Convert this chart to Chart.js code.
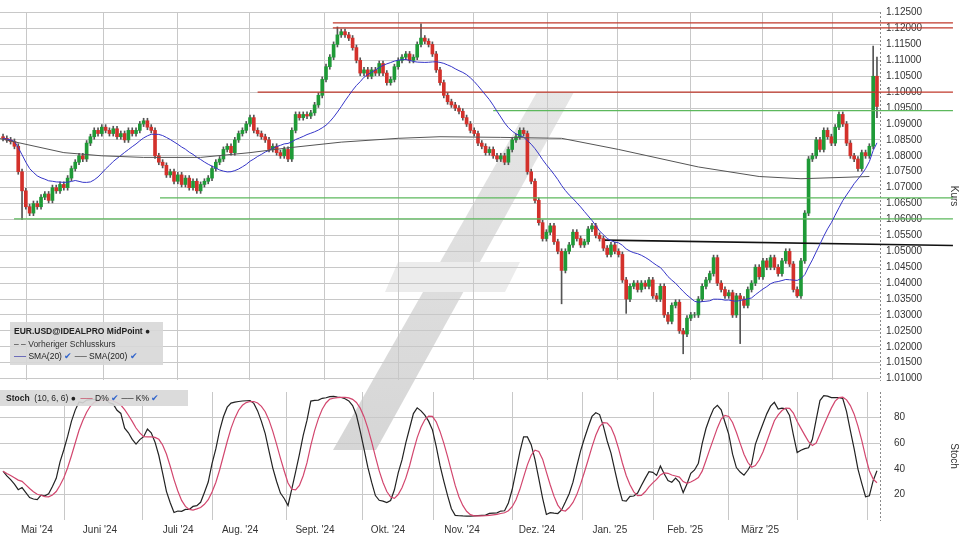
<!DOCTYPE html>
<html><head><meta charset="utf-8">
<script src="https://cdn.jsdelivr.net/npm/chart.js@4.4.1/dist/chart.umd.min.js"></script>
<style>
body{margin:0;background:#fff;font-family:"Liberation Sans",Arial,sans-serif}
#wrap{position:relative;width:960px;height:540px;overflow:hidden}
canvas{position:absolute;left:0}
#mark{position:absolute;left:0;top:0}
.box{position:absolute;font-size:8.5px;color:#222;background:rgba(215,215,215,0.9);white-space:nowrap}
</style></head><body>
<div id="wrap">
<svg id="mark" width="960" height="540"><defs><linearGradient id="g" x1="0" y1="0" x2="0" y2="1"><stop offset="0" stop-color="#e6e6e6"/><stop offset="1" stop-color="#d6d6d6"/></linearGradient></defs>
<polygon points="537,92 574,92 376,450 333,450" fill="url(#g)"/>
<polygon points="398,262 520,262 505,292 385,292" fill="#ececec"/></svg>
<canvas id="price" style="top:0" width="960" height="392"></canvas>
<canvas id="stoch" style="top:372px" width="960" height="168"></canvas>
<div class="box" style="left:10px;top:322px;width:153px;height:43px;padding:3px 4px;box-sizing:border-box;line-height:12.5px">
<b>EUR.USD@IDEALPRO MidPoint</b> &#9679;<br>
<span style="color:#333">&#8211; &#8211; Vorheriger Schlusskurs</span><br>
<span style="color:#1c1ca0">&#9472;&#9472;</span> SMA(20) <span style="color:#36c">&#10004;</span> <span style="color:#333">&#9472;&#9472;</span> SMA(200) <span style="color:#36c">&#10004;</span></div>
<div class="box" style="left:0;top:390px;width:188px;height:16px;line-height:16px;padding-left:6px;box-sizing:border-box">
<b>Stoch</b> &nbsp;(10, 6, 6) &#9679; &nbsp;<span style="color:#c03050">&#9472;&#9472;</span> D% <span style="color:#36c">&#10004;</span> <span>&#9472;&#9472;</span> K% <span style="color:#36c">&#10004;</span></div>
</div>
<script>
// Schlusskurse (tägliche Kerzen)
const closes = [
1.0855,1.0850,1.0845,1.0830,1.0750,1.0690,1.0640,1.0620,1.0650,1.0640,
1.0670,1.0680,1.0660,1.0700,1.0690,1.0710,1.0700,1.0730,1.0760,1.0780,
1.0800,1.0790,1.0840,1.0860,1.0880,1.0870,1.0890,1.0880,1.0870,1.0885,
1.0860,1.0870,1.0850,1.0880,1.0870,1.0880,1.0900,1.0910,1.0890,1.0880,
1.0800,1.0780,1.0770,1.0740,1.0750,1.0720,1.0740,1.0710,1.0730,1.0700,
1.0720,1.0690,1.0710,1.0720,1.0730,1.0760,1.0780,1.0790,1.0820,1.0830,
1.0810,1.0850,1.0870,1.0880,1.0900,1.0920,1.0880,1.0870,1.0860,1.0850,
1.0820,1.0830,1.0810,1.0800,1.0820,1.0790,1.0880,1.0930,1.0920,1.0930,
1.0925,1.0935,1.0960,1.0990,1.1040,1.1080,1.1110,1.1150,1.1180,1.1190,
1.1180,1.1170,1.1140,1.1100,1.1060,1.1070,1.1050,1.1070,1.1060,1.1090,
1.1060,1.1030,1.1040,1.1080,1.1100,1.1110,1.1120,1.1100,1.1110,1.1150,
1.1170,1.1160,1.1150,1.1120,1.1070,1.1030,1.0990,1.0970,1.0960,1.0950,
1.0940,1.0920,1.0900,1.0880,1.0870,1.0840,1.0830,1.0810,1.0820,1.0800,
1.0790,1.0800,1.0780,1.0820,1.0850,1.0860,1.0880,1.0870,1.0750,1.0720,
1.0660,1.0590,1.0540,1.0560,1.0580,1.0530,1.0500,1.0440,1.0500,1.0520,
1.0560,1.0540,1.0520,1.0530,1.0570,1.0580,1.0550,1.0540,1.0510,1.0490,
1.0520,1.0500,1.0490,1.0410,1.0350,1.0390,1.0400,1.0380,1.0400,1.0390,
1.0410,1.0360,1.0350,1.0390,1.0300,1.0280,1.0330,1.0340,1.0250,1.0240,
1.0290,1.0300,1.0300,1.0350,1.0390,1.0410,1.0430,1.0480,1.0400,1.0380,
1.0360,1.0370,1.0300,1.0360,1.0350,1.0330,1.0380,1.0400,1.0450,1.0420,
1.0470,1.0450,1.0480,1.0450,1.0430,1.0470,1.0500,1.0460,1.0380,1.0360,
1.0470,1.0620,1.0790,1.0800,1.0850,1.0820,1.0880,1.0860,1.0840,1.0890,
1.0930,1.0900,1.0840,1.0800,1.0790,1.0760,1.0810,1.0800,1.0830,1.1050,
1.0955];
const firstOpen = 1.0860;
// auffällige Dochte: [index, hoch, tief]
const wicks = [[88,1.1205,null],[110,1.1215,null],[147,null,1.0335],[164,null,1.0305],
  [179,null,1.0178],[209,null,1.0355],[229,1.1145,null],[230,1.1110,1.0920],[5,null,1.0600],[194,null,1.0210]];
// SMA(200) [index, kurs]
const sma200 = [[-0.8,1.0854],[16,1.0810],[26,1.0800],[37,1.0795],[52,1.0795],[65,1.0810],
  [75,1.0825],[89,1.0843],[104,1.0855],[115,1.0860],[131,1.0858],[147,1.0855],[162,1.0820],
  [183,1.0765],[199,1.0735],[210,1.0728],[228,1.0735]];
// horizontale Linien: [start, kurs, farbe]
const levels = [[86.8,1.1218,'#c0392b'],[86.8,1.1202,'#c0392b'],[67,1.1000,'#c0392b'],
  [129,1.0942,'#5cb85c'],[41.3,1.0668,'#5cb85c'],[2.9,1.0602,'#5cb85c']];
const trend = [[158.4,1.0535],[250,1.0518]];
const gridIdx = [16.3,36.8,55.0,74.7,94.7,113.4,134.0,152.4,171.1,190.8,209.0,227.4];
const monthIdx = [8.9,25.5,46.1,62.4,82.1,101.3,120.8,140.5,159.7,179.5,199.2];
const monthLabels = ["Mai '24","Juni '24","Juli '24","Aug. '24","Sept. '24","Okt. '24","Nov. '24","Dez. '24","Jan. '25","Feb. '25","März '25"];

const XMIN = -0.8, XMAX = 230.8, XEND = 250;
const opens = closes.map((c, i) => i === 0 ? firstOpen : closes[i - 1]);
opens[230] = 1.1050;
const highs = closes.map((c, i) => Math.max(c, opens[i]) + 0.0008);
const lows = closes.map((c, i) => Math.min(c, opens[i]) - 0.0008);
wicks.forEach(([i, h, l]) => { if (h) highs[i] = h; if (l) lows[i] = l; });

const up = '#1f9a37', down = '#d3312b';
const bodies = closes.map((c, i) => ({ x: i, y: [opens[i], c] }));
const wickData = closes.map((c, i) => ({ x: i, y: [lows[i], highs[i]] }));
const sma20 = closes.map((c, i) => {
    const w = closes.slice(Math.max(0, i - 19), i + 1);
    return { x: i, y: w.reduce((a, b) => a + b, 0) / w.length };
});

// Stochastik (10, 6, 6)
const raw = closes.map((c, i) => {
    const hh = Math.max(...highs.slice(Math.max(0, i - 9), i + 1));
    const ll = Math.min(...lows.slice(Math.max(0, i - 9), i + 1));
    return (c - ll) / (hh - ll) * 100;
});
const avg = (arr, n) => arr.map((v, i) => { const w = arr.slice(Math.max(0, i - n + 1), i + 1); return w.reduce((a, b) => a + b, 0) / w.length; });
const kLine = avg(raw, 6);
const dLine = avg(kLine, 6);

const xAxis = () => ({
    type: 'linear', min: XMIN, max: XMAX, offset: false,
    afterBuildTicks: s => { s.ticks = gridIdx.map(v => ({ value: v })); },
    afterFit: s => { s.height = 0; },
    grid: { color: '#c8c8c8', lineWidth: 1, drawTicks: false },
    border: { display: false },
    ticks: { display: false }
});
const fitRight = s => { s.width = 80; };
Chart.defaults.font.family = '"Liberation Sans", Arial, sans-serif';
Chart.defaults.animation = false;

const lineDs = (data, color, w, extra) => Object.assign({ type: 'line', data, borderColor: color, borderWidth: w, pointRadius: 0, fill: false, order: 0 }, extra || {});

// gestrichelte Gitterlinien
const dashGrid = {
    id: 'dashGrid',
    beforeDraw: c => { c.ctx.save(); c.ctx.setLineDash([2, 2]); },
    beforeDatasetsDraw: c => { c.ctx.restore(); }
};

// Monatsbeschriftung unter dem Stoch-Panel
const monthText = {
    id: 'monthText',
    afterDraw: c => {
        const ctx = c.ctx, sx = c.scales.x;
        ctx.save();
        ctx.font = '10px "Liberation Sans", Arial, sans-serif';
        ctx.fillStyle = '#333';
        ctx.textAlign = 'center';
        ctx.textBaseline = 'middle';
        monthIdx.forEach((v, k) => ctx.fillText(monthLabels[k], sx.getPixelForValue(v), 158));
        ctx.restore();
    }
};

new Chart(document.getElementById('price'), {
    type: 'bar',
    data: { datasets: [
        { data: wickData, backgroundColor: '#555', barThickness: 1, grouped: false, order: 3 },
        { data: bodies, backgroundColor: closes.map((c, i) => c >= opens[i] ? up : down), barThickness: 3, grouped: false, order: 2 },
        lineDs(sma200.map(([x, y]) => ({ x, y })), '#555', 1),
        lineDs(sma20, '#3535c8', 1),
        ...levels.map(([x, y, col]) => lineDs([{ x, y }, { x: XEND, y }], col, 1.3, { clip: false })),
        lineDs(trend.map(([x, y]) => ({ x, y })), '#111', 1.6, { clip: false })
    ] },
    options: {
        responsive: false,
        layout: { padding: { top: 4, bottom: 0, left: 0, right: 0 } },
        plugins: { legend: { display: false }, tooltip: { enabled: false } },
        scales: {
            x: xAxis(),
            y: { position: 'right', min: 1.00956, max: 1.12519, afterFit: fitRight,
                afterBuildTicks: s => { const t = []; for (let k = 0; k <= 23; k++) t.push({ value: +(1.010 + k * 0.005).toFixed(3) }); s.ticks = t; },
                grid: { color: '#c8c8c8', drawTicks: false }, border: { color: '#888' },
                ticks: { color: '#333', font: { size: 10 }, padding: 6, callback: v => v.toFixed(5) },
                title: { display: true, text: 'Kurs', color: '#333', font: { size: 10 }, padding: 0 } }
        }
    },
    plugins: [dashGrid]
});

new Chart(document.getElementById('stoch'), {
    type: 'line',
    data: { datasets: [
        lineDs(dLine.map((y, x) => ({ x, y })), '#d2466e', 1.2),
        lineDs(kLine.map((y, x) => ({ x, y })), '#222', 1.2)
    ] },
    options: {
        responsive: false,
        layout: { padding: { top: 2, bottom: 0, left: 0, right: 0 } },
        plugins: { legend: { display: false }, tooltip: { enabled: false } },
        scales: {
            x: xAxis(),
            xl: { type: 'linear', position: 'bottom', min: XMIN, max: XMAX,
                afterBuildTicks: s => { s.ticks = monthIdx.map(v => ({ value: v })); },
                afterFit: s => { s.height = 20; },
                grid: { display: false }, border: { display: false },
                ticks: { color: 'rgba(0,0,0,0)', font: { size: 10 }, padding: 8, maxRotation: 0, autoSkip: false,
                    callback: (v) => monthLabels[monthIdx.indexOf(v)] } },
            y: { position: 'right', min: 0, max: 100, afterFit: fitRight,
                afterBuildTicks: s => { s.ticks = [20, 40, 60, 80].map(v => ({ value: v })); },
                grid: { color: '#c8c8c8', drawTicks: false }, border: { color: '#888' },
                ticks: { color: '#333', font: { size: 10 }, padding: 14 },
                title: { display: true, text: 'Stoch', color: '#333', font: { size: 10 }, padding: 0 } }
        }
    },
    plugins: [dashGrid, monthText]
});
</script>
</body></html>
